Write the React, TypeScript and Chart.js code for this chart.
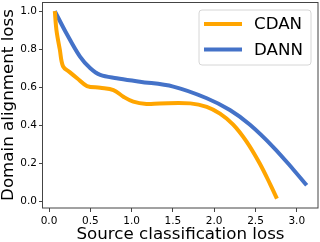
import React, { useEffect, useRef } from "react";
import { Chart, registerables } from "chart.js";

Chart.register(...registerables);

const cdanX = [0.07, 0.09, 0.13, 0.17, 0.25, 0.34, 0.46, 0.62, 0.78, 0.9, 1.02, 1.18, 1.34, 1.71, 1.91, 2.07, 2.23, 2.39, 2.55, 2.68, 2.76];
const cdanY = [1.0, 0.9, 0.8, 0.71, 0.68, 0.648, 0.607, 0.598, 0.586, 0.551, 0.525, 0.513, 0.516, 0.516, 0.498, 0.462, 0.405, 0.317, 0.202, 0.09, 0.016];
const dannX = [0.07, 0.21, 0.375, 0.5, 0.62, 0.82, 1.1, 1.505, 1.91, 2.19, 2.43, 2.715, 2.96, 3.12];
const dannY = [1.0, 0.884, 0.761, 0.7, 0.665, 0.648, 0.63, 0.604, 0.543, 0.481, 0.405, 0.287, 0.168, 0.086];
const xTicks = [0.0, 0.5, 1.0, 1.5, 2.0, 2.5, 3.0];
const yTicks = [0.0, 0.2, 0.4, 0.6, 0.8, 1.0];
const seriesNames = ["CDAN", "DANN"];
const seriesColors = ["#FFA500", "#4472C8"];

const FONT = "'DejaVu Sans', sans-serif";

const frameAndLegend = {
  id: "frameAndLegend",
  afterDraw(chart: any) {
    const { ctx, chartArea } = chart;
    ctx.save();
    ctx.strokeStyle = "#444";
    ctx.lineWidth = 1;
    ctx.strokeRect(
      Math.round(chartArea.left) - 0.5,
      Math.round(chartArea.top) + 0.5,
      Math.round(chartArea.right - chartArea.left) + 0.5,
      Math.round(chartArea.bottom - chartArea.top) - 0.5
    );
    // legend
    const bx = chartArea.right - 119;
    const by = chartArea.top + 8;
    const bw = 112;
    const bh = 55;
    const r = 3;
    ctx.beginPath();
    ctx.moveTo(bx + r, by);
    ctx.arcTo(bx + bw, by, bx + bw, by + bh, r);
    ctx.arcTo(bx + bw, by + bh, bx, by + bh, r);
    ctx.arcTo(bx, by + bh, bx, by, r);
    ctx.arcTo(bx, by, bx + bw, by, r);
    ctx.closePath();
    ctx.fillStyle = "rgba(255,255,255,0.8)";
    ctx.fill();
    ctx.strokeStyle = "#d6d6d6";
    ctx.lineWidth = 1;
    ctx.stroke();
    ctx.font = `16.7px ${FONT}`;
    ctx.textBaseline = "middle";
    ctx.textAlign = "left";
    seriesNames.forEach((name, i) => {
      const cy = by + 14 + i * 25.5;
      ctx.beginPath();
      ctx.moveTo(bx + 5, cy);
      ctx.lineTo(bx + 43, cy);
      ctx.strokeStyle = seriesColors[i];
      ctx.lineWidth = 4;
      ctx.lineCap = "butt";
      ctx.stroke();
      ctx.fillStyle = "#000";
      ctx.fillText(name, bx + 55, cy + 1);
    });
    ctx.restore();
  },
};

export default function App() {
  const ref = useRef<HTMLCanvasElement | null>(null);
  useEffect(() => {
    if (!ref.current) return;
    const chart = new Chart(ref.current, {
      type: "line",
      data: {
        datasets: [
          {
            label: seriesNames[0],
            data: cdanX.map((x, i) => ({ x, y: cdanY[i] })),
            borderColor: seriesColors[0],
            borderWidth: 4,
            pointRadius: 0,
            tension: 0.35,
            borderJoinStyle: "round",
            fill: false,
          },
          {
            label: seriesNames[1],
            data: dannX.map((x, i) => ({ x, y: dannY[i] })),
            borderColor: seriesColors[1],
            borderWidth: 4,
            pointRadius: 0,
            tension: 0.35,
            borderJoinStyle: "round",
            fill: false,
          },
        ],
      },
      options: {
        animation: false,
        responsive: false,
        maintainAspectRatio: false,
        layout: { padding: { top: 2, right: 2, left: 0, bottom: 0 } },
        plugins: { legend: { display: false }, tooltip: { enabled: false } },
        scales: {
          x: {
            type: "linear",
            min: -0.073,
            max: 3.257,
            afterBuildTicks: (s: any) => {
              s.ticks = xTicks.map((v) => ({ value: v }));
            },
            afterFit: (s: any) => {
              s.height = 34;
              s.paddingLeft = 0;
              s.paddingRight = 0;
            },
            ticks: {
              callback: (v: any) => Number(v).toFixed(1),
              font: { family: FONT, size: 10.5 },
              color: "#000",
              padding: 3,
              maxRotation: 0,
            },
            grid: { display: true, drawOnChartArea: false, drawTicks: true, tickLength: 4, color: "#444" },
            border: { display: false },
            title: {
              display: true,
              text: "Source classification loss",
              font: { family: FONT, size: 16.7, lineHeight: 0.9 },
              color: "#000",
              padding: { top: 0, bottom: 0 },
            },
          },
          y: {
            type: "linear",
            min: -0.033,
            max: 1.048,
            afterBuildTicks: (s: any) => {
              s.ticks = yTicks.map((v) => ({ value: v }));
            },
            afterFit: (s: any) => {
              s.width = 43;
              s.paddingTop = 0;
              s.paddingBottom = 0;
            },
            ticks: {
              callback: (v: any) => Number(v).toFixed(1),
              font: { family: FONT, size: 10.5 },
              color: "#000",
              padding: 2,
            },
            grid: { display: true, drawOnChartArea: false, drawTicks: true, tickLength: 4, color: "#444" },
            border: { display: false },
            title: {
              display: true,
              text: "Domain alignment loss",
              font: { family: FONT, size: 16.7, lineHeight: 1 },
              color: "#000",
              padding: { top: 0, bottom: 0 },
            },
          },
        },
      },
      plugins: [frameAndLegend],
    } as any);
    return () => chart.destroy();
  }, []);
  return (
    <div style={{ position: "absolute", left: 0, top: 0, width: 320, height: 242, background: "#fff" }}>
      <canvas ref={ref} width={320} height={242} style={{ width: 320, height: 242, display: "block" }} />
    </div>
  );
}
